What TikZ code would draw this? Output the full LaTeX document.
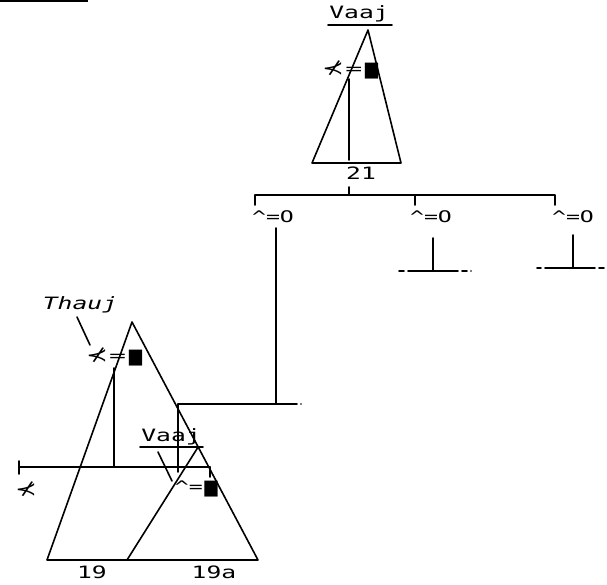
\documentclass[tikz,border=0pt]{standalone}
\usepackage{fontspec}
\setmonofont{DejaVu Sans Mono}
\newfontfamily\symfont{DejaVu Sans}
\usetikzlibrary{calc,positioning}
\tikzset{
  lbl/.style={font=\ttfamily\fontsize{17}{17}\selectfont,xscale=1.45,inner sep=0pt},
  marklbl/.style={lbl,font=\symfont\fontsize{16}{16}\selectfont},
  wire/.style={line width=1.6pt,line cap=round,line join=round},
  faint/.style={wire,dash pattern=on 5pt off 4pt}
}
\newcommand{\notmark}{{\symfont\fontsize{18}{18}\selectfont ⊀}}
\newcommand{\blk}{\raisebox{-1.5pt}{\scalebox{0.75}[1.3]{\symfont ■}}}
\newcommand{\hole}{\ttfamily O}
\begin{document}
\begin{tikzpicture}[x=1pt,y=-1pt]
  \useasboundingbox (0,0) rectangle (607,584);
  % heading rule, cut off at the top
  \draw[line width=2pt] (0,1) -- (88,1);

  % upper tree
  \node[lbl] (vaajtop) at (359,14) {Vaaj};
  \draw[wire] (328,25) -- (392,25);
  \coordinate (tapex) at (368,30);
  \coordinate (tleft) at (312,163);
  \coordinate (tright) at (401,163);
  \draw[wire] (tapex) -- (tleft) -- (tright) -- cycle;
  \node[marklbl] (marktop) at (351,70) {\notmark=\blk};
  \draw[wire] (349,79) -- (349,160);
  \node[lbl] (n21) at (361,173) {21};
  \coordinate (fork) at (349,195);
  \draw[wire] (349,187) -- (fork);

  \node[marklbl] (hat1) at (273,217) {\ttfamily\char"005E=\hole};
  \node[marklbl] (hat2) at (431,217) {\ttfamily\char"005E=\hole};
  \node[marklbl] (hat3) at (573,217) {\ttfamily\char"005E=\hole};
  \draw[wire] (255,205) |- (fork) -| (555,205);
  \draw[wire] (415,195) -- (415,205);

  % stub branches
  \draw[wire] (433,238) -- (433,271);
  \draw[wire] (413,271) -- (453,271);
  \draw[faint] (413,271) -- (397,271);
  \draw[faint] (453,271) -- (471,271);
  \draw[wire] (573,235) -- (573,268);
  \draw[wire] (550,268) -- (590,268);
  \draw[faint] (550,268) -- (537,268);
  \draw[faint] (590,268) -- (607,268);

  % long branch down to the lower tree
  \coordinate (drop) at (276,404);
  \coordinate (joint) at (178,404);
  \draw[wire] (276,228) -- (drop);
  \draw[wire] (joint) -- (292,404);
  \draw[faint] (292,404) -- (301,404);

  % lower tree
  \coordinate (bapex) at (132,322);
  \coordinate (bleft) at (47,560);
  \coordinate (bright) at (258,560);
  \coordinate (sapex) at ($(bapex)!0.525!(bright)$);
  \coordinate (sleft) at (127,560);
  \draw[wire] (bapex) -- (bleft) -- (bright) -- cycle;
  \draw[wire] (sapex) -- (sleft);
  \node[lbl] (n19) at (92,572) {19};
  \node[lbl] (n19a) at (214,572) {19a};

  \node[lbl,font=\ttfamily\itshape\fontsize{17}{17}\selectfont] (thauj) at (80,305) {Thauj};
  \node[marklbl] (markth) at (115,357) {\notmark=\blk};
  \draw[wire] (77,317) -- (90,345);
  \coordinate (cross) at (114,467);
  \draw[wire] (114,368) -- (cross);
  \draw[wire] (19,467) -- (210,467);
  \draw[wire] (19,461) -- (19,474);
  \draw[wire] (210,467) -- (210,477);
  \node[marklbl] (lone) at (26,489) {\notmark};

  \node[lbl] (vaajlow) at (171,437) {Vaaj};
  \draw[wire] (140,447) -- (203,447);
  \node[marklbl] (marklow) at (197,489) {\ttfamily\char"005E=\blk};
  \draw[wire] (158,452) -- (172,481);
  \draw[wire] (joint) -- (178,472);
\end{tikzpicture}
\end{document}
